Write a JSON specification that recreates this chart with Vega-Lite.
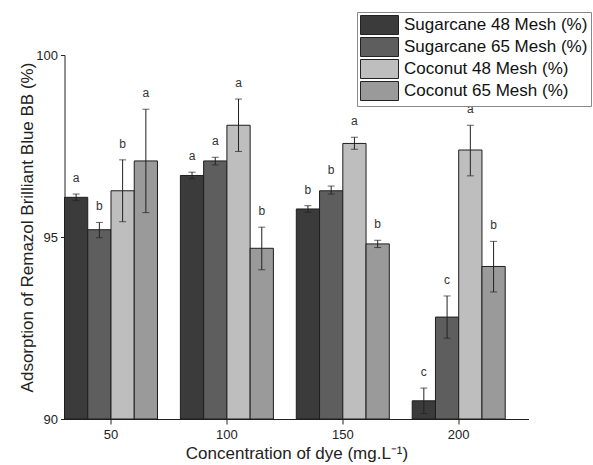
{
  "$schema": "https://vega.github.io/schema/vega-lite/v6.json",
  "width": 464,
  "height": 364,
  "autosize": {"type": "none"},
  "padding": {"left": 64.5, "top": 55, "right": 64.5, "bottom": 46},
  "background": "white",
  "config": {
    "view": {"stroke": null},
    "font": "Liberation Sans",
    "axis": {"labelFont": "Liberation Sans", "titleFont": "Liberation Sans", "domainColor": "#222", "tickColor": "#222", "labelColor": "#222", "titleColor": "#222", "grid": false, "titleFontWeight": "normal"},
    "legend": {"labelFont": "Liberation Sans"}
  },
  "data": {
    "values": [
      {"conc": "50", "series": "Sugarcane 48 Mesh (%)", "mean": 96.09, "lo": 96.0, "hi": 96.18, "letter": "a"},
      {"conc": "50", "series": "Sugarcane 65 Mesh (%)", "mean": 95.2, "lo": 94.98, "hi": 95.4, "letter": "b"},
      {"conc": "50", "series": "Coconut 48 Mesh (%)", "mean": 96.27, "lo": 95.42, "hi": 97.12, "letter": "b"},
      {"conc": "50", "series": "Coconut 65 Mesh (%)", "mean": 97.09, "lo": 95.67, "hi": 98.51, "letter": "a"},
      {"conc": "100", "series": "Sugarcane 48 Mesh (%)", "mean": 96.69, "lo": 96.6, "hi": 96.78, "letter": "a"},
      {"conc": "100", "series": "Sugarcane 65 Mesh (%)", "mean": 97.09, "lo": 96.98, "hi": 97.19, "letter": "a"},
      {"conc": "100", "series": "Coconut 48 Mesh (%)", "mean": 98.07, "lo": 97.35, "hi": 98.79, "letter": "a"},
      {"conc": "100", "series": "Coconut 65 Mesh (%)", "mean": 94.69, "lo": 94.1, "hi": 95.27, "letter": "b"},
      {"conc": "150", "series": "Sugarcane 48 Mesh (%)", "mean": 95.77, "lo": 95.68, "hi": 95.86, "letter": "b"},
      {"conc": "150", "series": "Sugarcane 65 Mesh (%)", "mean": 96.27, "lo": 96.18, "hi": 96.4, "letter": "b"},
      {"conc": "150", "series": "Coconut 48 Mesh (%)", "mean": 97.57, "lo": 97.41, "hi": 97.74, "letter": "a"},
      {"conc": "150", "series": "Coconut 65 Mesh (%)", "mean": 94.81, "lo": 94.71, "hi": 94.91, "letter": "b"},
      {"conc": "200", "series": "Sugarcane 48 Mesh (%)", "mean": 90.5, "lo": 90.15, "hi": 90.85, "letter": "c"},
      {"conc": "200", "series": "Sugarcane 65 Mesh (%)", "mean": 92.8, "lo": 92.22, "hi": 93.38, "letter": "c"},
      {"conc": "200", "series": "Coconut 48 Mesh (%)", "mean": 97.39, "lo": 96.68, "hi": 98.07, "letter": "a"},
      {"conc": "200", "series": "Coconut 65 Mesh (%)", "mean": 94.19, "lo": 93.49, "hi": 94.88, "letter": "b"}
    ]
  },
  "encoding": {
    "x": {
      "field": "conc", "type": "nominal",
      "sort": ["50", "100", "150", "200"],
      "scale": {"paddingInner": 0.1976, "paddingOuter": 0.1005, "align": 0},
      "axis": {"title": "Concentration of dye (mg.L⁻¹)", "labelAngle": 0, "labelFontSize": 13, "titleFontSize": 17, "tickSize": 5, "labelPadding": 4, "titlePadding": 4}
    },
    "xOffset": {
      "field": "series", "type": "nominal",
      "sort": ["Sugarcane 48 Mesh (%)", "Sugarcane 65 Mesh (%)", "Coconut 48 Mesh (%)", "Coconut 65 Mesh (%)"],
      "scale": {"paddingInner": 0, "paddingOuter": 0}
    }
  },
  "layer": [
    {
      "mark": {"type": "bar", "stroke": "#1e1e1e", "strokeWidth": 1},
      "encoding": {
        "y": {
          "field": "mean", "type": "quantitative",
          "scale": {"domain": [90, 100], "zero": false, "nice": false},
          "axis": {"title": "Adsorption of Remazol Brilliant Blue BB (%)", "values": [90, 95, 100], "labelFontSize": 13, "titleFontSize": 17, "tickSize": 4, "labelPadding": 3, "titleX": -37.5, "titleY": 172, "titleBaseline": "middle", "titleAlign": "center", "titleAngle": -90}
        },
        "y2": {"datum": 90},
        "color": {
          "field": "series", "type": "nominal",
          "sort": ["Sugarcane 48 Mesh (%)", "Sugarcane 65 Mesh (%)", "Coconut 48 Mesh (%)", "Coconut 65 Mesh (%)"],
          "scale": {"range": ["#3b3b3b", "#5e5e5e", "#bebebe", "#9a9a9a"]},
          "legend": {
            "title": null,
            "orient": "none",
            "legendX": 292.5,
            "legendY": -43,
            "symbolType": "M-1,-1H3V1H-1Z",
            "symbolSize": 361,
            "symbolStrokeColor": "#222",
            "symbolStrokeWidth": 1,
            "symbolOpacity": 1,
            "labelFontSize": 17,
            "labelColor": "#111",
            "labelOffset": 24,
            "rowPadding": -3,
            "padding": 3,
            "strokeColor": "#888",
            "fillColor": "white",
            "labelLimit": 300
          }
        }
      }
    },
    {
      "mark": {"type": "rule", "color": "#222", "strokeWidth": 1},
      "encoding": {
        "y": {"field": "lo", "type": "quantitative"},
        "y2": {"field": "hi"}
      }
    },
    {
      "mark": {"type": "tick", "color": "#222", "size": 7, "thickness": 1},
      "encoding": {"y": {"field": "lo", "type": "quantitative"}}
    },
    {
      "mark": {"type": "tick", "color": "#222", "size": 7, "thickness": 1},
      "encoding": {"y": {"field": "hi", "type": "quantitative"}}
    },
    {
      "mark": {"type": "text", "fontSize": 12, "color": "#333", "dy": -16, "baseline": "middle"},
      "encoding": {
        "y": {"field": "hi", "type": "quantitative"},
        "text": {"field": "letter"}
      }
    }
  ]
}
